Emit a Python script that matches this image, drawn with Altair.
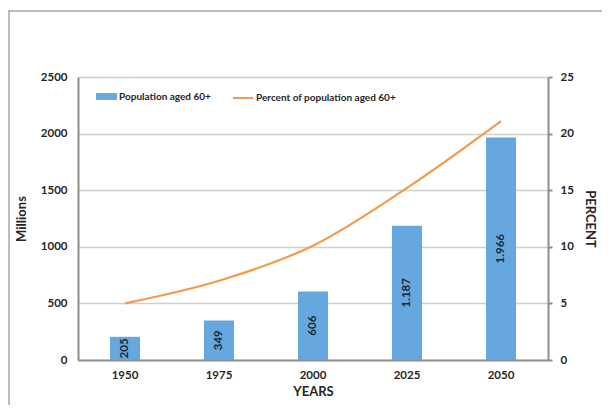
import altair as alt
import pandas as pd

years = ["1950", "1975", "2000", "2025", "2050"]
population = [205, 349, 606, 1187, 1966]
bar_labels = ["205", "349", "606", "1.187", "1.966"]
percent = [5.0, 7.0, 10.1, 15.2, 21.1]
series_bar = "Population aged 60+"
series_line = "Percent of population aged 60+"
left_ticks = [0, 500, 1000, 1500, 2000, 2500]
right_ticks = [0, 5, 10, 15, 20, 25]

df = pd.DataFrame({
    "year": years,
    "pop": population,
    "label": bar_labels,
    "pct": percent,
    "s1": [series_bar] * len(years),
    "s2": [series_line] * len(years),
})

FONT = "Lato"
BLUE = "#66A8DD"
ORANGE = "#F39B4C"
AXIS = "#8E8E8E"
GRID = "#CFCFCF"
TXT = "#262626"

x_enc = alt.X(
    "year:O",
    scale=alt.Scale(paddingInner=0.68, paddingOuter=0.34),
    axis=alt.Axis(title="YEARS", labelAngle=0, ticks=False, tickSize=0,
                  domainColor=AXIS, domainWidth=2, labelPadding=9,
                  titlePadding=5, grid=False),
)

left_axis = alt.Axis(title="Millions", orient="left", values=left_ticks,
                     format="d", grid=True, gridColor=GRID, gridWidth=1.5,
                     ticks=False, tickSize=0, domainColor=AXIS,
                     domainWidth=2, labelPadding=11, titlePadding=12)

bars = alt.Chart(df).mark_bar().encode(
    x=x_enc,
    y=alt.Y("pop:Q", scale=alt.Scale(domain=[0, 2500]), axis=left_axis),
    fill=alt.Fill("s1:N", scale=alt.Scale(domain=[series_bar], range=[BLUE]),
                  title=None,
                  legend=alt.Legend(orient="none", legendX=18, legendY=9,
                                    symbolType="M-1,-0.33L1,-0.33L1,0.33L-1,0.33Z",
                                    symbolSize=441, symbolStrokeWidth=0,
                                    labelOffset=2)),
)

labels = alt.Chart(df).transform_calculate(mid="datum.pop / 2").mark_text(
    angle=270, font=FONT, fontWeight="bold", fontSize=11.5, color="#1a2636"
).encode(
    x=x_enc,
    y=alt.Y("mid:Q", scale=alt.Scale(domain=[0, 2500]), axis=left_axis),
    text="label:N",
)

line = alt.Chart(df).mark_line(strokeWidth=2.2, interpolate="catmull-rom").encode(
    x=x_enc,
    y=alt.Y("pct:Q", scale=alt.Scale(domain=[0, 25]),
            axis=alt.Axis(title="PERCENT", orient="right", values=right_ticks,
                          grid=False, ticks=True, tickSize=4, tickColor=AXIS,
                          tickWidth=2, domainColor=AXIS, domainWidth=2,
                          labelPadding=8, titlePadding=9, titleAngle=90)),
    stroke=alt.Stroke("s2:N", scale=alt.Scale(domain=[series_line], range=[ORANGE]),
                      title=None,
                      legend=alt.Legend(orient="none", legendX=154, legendY=10,
                                        symbolType="stroke", symbolSize=400,
                                        symbolStrokeWidth=2, labelOffset=2)),
)

frame_df = pd.DataFrame({"k": [0]})
frame_top = alt.Chart(frame_df).mark_rule(color="#A8A8A8", strokeWidth=1.5).encode(
    x=alt.value(-70), x2=alt.value(530), y=alt.value(-66))
frame_left = alt.Chart(frame_df).mark_rule(color="#A8A8A8", strokeWidth=1.5).encode(
    x=alt.value(-69), y=alt.value(-66), y2=alt.value(330))

left_part = alt.layer(bars, labels)

chart = alt.layer(left_part, line, frame_top, frame_left).resolve_scale(
    y="independent"
).properties(
    width=470, height=283,
    autosize=alt.AutoSizeParams(type="none"),
    padding={"left": 70, "top": 69, "right": 54, "bottom": 45},
).configure_axis(
    labelFont=FONT, labelFontWeight="bold", labelFontSize=11.5, labelColor=TXT,
    titleFont=FONT, titleFontWeight="bold", titleFontSize=13, titleColor=TXT,
).configure_legend(
    labelFont=FONT, labelFontSize=10, labelFontWeight="bold", labelColor=TXT,
    padding=0,
).configure_view(strokeOpacity=0)

chart.save("out.html", embed_options={"renderer": "svg", "actions": False})
